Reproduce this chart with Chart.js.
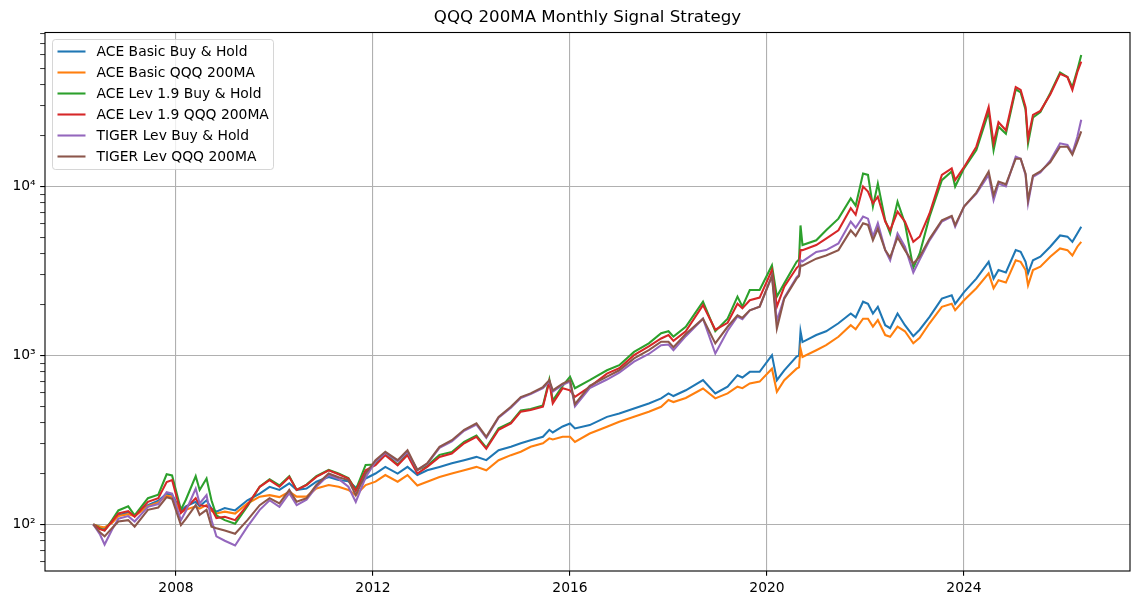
<!DOCTYPE html>
<html lang="en">
<head>
<meta charset="utf-8">
<script src="https://cdn.jsdelivr.net/npm/chart.js"></script>
<style>
    body { margin: 0; background: #ffffff; }
    #wrap { width: 1140px; height: 605px; }
</style>
</head>
<body>
<div id="wrap"><canvas id="chart" width="1140" height="605"></canvas></div>
<script>
// dates as decimal years (log scale)
const years = [
    2006.32, 2006.45, 2006.55, 2006.70, 2006.83, 2007.03, 2007.16, 2007.43, 2007.64, 2007.81,
    2007.92, 2008.10, 2008.20, 2008.40, 2008.48, 2008.62, 2008.72, 2008.82, 2008.99, 2009.20,
    2009.45, 2009.70, 2009.90, 2010.10, 2010.30, 2010.45, 2010.65, 2010.85, 2011.10, 2011.30,
    2011.50, 2011.65, 2011.85, 2012.05, 2012.25, 2012.50, 2012.70, 2012.90, 2013.10, 2013.35,
    2013.60, 2013.85, 2014.10, 2014.30, 2014.55, 2014.80, 2015.00, 2015.20, 2015.45, 2015.58,
    2015.65, 2015.85, 2016.00, 2016.10, 2016.40, 2016.75, 2017.00, 2017.30, 2017.60, 2017.85,
    2018.00, 2018.10, 2018.35, 2018.70, 2018.95, 2019.20, 2019.40, 2019.50, 2019.65, 2019.85,
    2020.10, 2020.20, 2020.35, 2020.60, 2020.65, 2020.68, 2020.72, 2021.00, 2021.20, 2021.45,
    2021.70, 2021.80, 2021.95, 2022.05, 2022.15, 2022.25, 2022.40, 2022.50, 2022.65, 2022.80,
    2022.97, 2023.10, 2023.30, 2023.55, 2023.75, 2023.82, 2024.00, 2024.25, 2024.50, 2024.60,
    2024.70, 2024.85, 2025.05, 2025.15, 2025.25, 2025.30, 2025.40, 2025.55, 2025.75, 2025.95,
    2026.10, 2026.20, 2026.30, 2026.38
];

const aceBasicHold = [
    100, 97, 95, 103, 113, 118, 113, 130, 138, 152,
    150, 120, 128, 136, 128, 139, 124, 119, 125, 121,
    139, 152, 167, 160, 175, 160, 163, 179, 191, 183,
    180, 165, 187, 200, 219, 200, 219, 196, 209, 219,
    230, 240, 251, 240, 275, 288, 302, 315, 330, 363,
    350, 380, 396, 370, 387, 433, 453, 485, 520, 557,
    596, 575, 622, 714, 596, 653, 764, 740, 800, 800,
    1004, 714, 816, 985, 1000, 1390, 1200, 1320, 1390, 1550,
    1770, 1680, 2080, 2020, 1770, 1940, 1510, 1450, 1770, 1510,
    1300, 1420, 1690, 2170, 2270, 2020, 2370, 2850, 3580, 2850,
    3200, 3100, 4200, 4100, 3580, 3060, 3660, 3840, 4400, 5130,
    5050, 4700, 5270, 5780
];

const aceBasicMA = [
    100, 97, 96, 102, 112, 115, 112, 128, 135, 148,
    146, 118, 122, 128, 124, 130, 120, 116, 119, 116,
    133, 146, 149, 145, 156, 146, 146, 163, 171, 167,
    160, 149, 171, 179, 196, 179, 196, 170, 179, 191,
    200, 209, 219, 209, 240, 257, 269, 288, 302, 323,
    318, 330, 330, 308, 345, 378, 405, 433, 464, 497,
    545, 530, 560, 637, 557, 596, 653, 640, 683, 700,
    835, 610, 714, 835, 850, 1100, 980, 1074, 1150, 1290,
    1510, 1430, 1650, 1650, 1480, 1620, 1320, 1290, 1480, 1390,
    1180, 1270, 1550, 1940, 2020, 1850, 2122, 2500, 3060, 2500,
    2790, 2700, 3660, 3580, 3200, 2600, 3200, 3350, 3840, 4300,
    4200, 3900, 4400, 4700
];

const aceLevHold = [
    100, 95, 92, 106, 121, 128, 113, 143, 150, 198,
    195, 122, 140, 193, 160, 187, 139, 113, 106, 101,
    128, 167, 185, 170, 193, 160, 172, 193, 210, 200,
    188, 160, 225, 226, 262, 226, 262, 210, 222, 258,
    268, 308, 336, 285, 370, 402, 472, 482, 505, 720,
    540, 660, 749, 640, 714, 817, 876, 1050, 1179, 1352,
    1390, 1292, 1478, 2080, 1390, 1650, 2230, 1944, 2440, 2440,
    3410, 2230, 2670, 3580, 3700, 5880, 4500, 4800, 5500, 6450,
    8500, 7700, 11920, 11700, 7600, 10400, 6300, 5270, 8120, 6060,
    3300, 4010, 6630, 10900, 12260, 9990, 12800, 16400, 27600, 16400,
    22600, 20500, 37600, 36000, 28500, 18000, 25600, 27600, 35600, 47300,
    44400, 38700, 48800, 59900
];

const aceLevMA = [
    100, 94, 92, 104, 116, 120, 111, 136, 143, 178,
    183, 117, 125, 143, 130, 128, 124, 109, 111, 106,
    130, 167, 183, 167, 191, 160, 171, 191, 209, 198,
    187, 158, 209, 224, 257, 224, 257, 200, 219, 251,
    263, 302, 330, 280, 363, 396, 465, 475, 497, 700,
    520, 640, 622, 569, 652, 780, 840, 1004, 1130, 1260,
    1320, 1220, 1390, 1985, 1420, 1560, 2025, 1900, 2122, 2200,
    3200, 1944, 2550, 3290, 3400, 4200, 4200, 4500, 4920, 5500,
    7440, 6800, 9990, 9330, 7950, 8700, 6200, 5500, 7090, 6200,
    4700, 5050, 6920, 11700, 12800, 10900, 13000, 17200, 29500, 18000,
    24000, 21500, 38700, 37300, 29500, 19200, 26500, 28000, 35000, 46400,
    44400, 37300, 47500, 54800
];

const tigerLevHold = [
    100, 88, 76, 93, 108, 112, 104, 127, 132, 155,
    152, 106, 120, 163, 133, 149, 106, 85, 80, 75,
    97, 122, 139, 127, 153, 130, 140, 167, 196, 186,
    167, 136, 190, 235, 265, 236, 268, 210, 228, 284,
    310, 358, 390, 325, 428, 490, 560, 590, 640, 700,
    610, 670, 700, 500, 640, 720, 790, 920, 1020, 1150,
    1160, 1074, 1300, 1650, 1026, 1400, 1700, 1640, 1850, 1944,
    2960, 1600, 2200, 2900, 3000, 3660, 3600, 4100, 4200, 4600,
    6200, 5700, 6630, 6450, 5050, 6060, 4200, 3660, 5270, 4400,
    3100, 3700, 4800, 6200, 6630, 5780, 7600, 9060, 11700, 8300,
    10400, 10000, 15000, 14600, 11700, 7950, 11400, 12100, 14200, 18000,
    17600, 15700, 19600, 24800
];

const tigerLevMA = [
    100, 90, 85, 95, 104, 106, 97, 122, 126, 145,
    142, 99, 108, 130, 114, 122, 97, 95, 92, 88,
    106, 130, 143, 133, 160, 136, 143, 171, 200, 190,
    183, 149, 200, 240, 269, 240, 275, 210, 230, 288,
    315, 363, 396, 330, 433, 497, 567, 596, 650, 714,
    622, 680, 714, 515, 660, 749, 817, 961, 1074, 1205,
    1205, 1120, 1340, 1650, 1179, 1478, 1730, 1670, 1850, 1944,
    2960, 1445, 2170, 2850, 2950, 3400, 3400, 3740, 3900, 4200,
    5500, 5100, 6060, 5920, 4800, 5630, 4200, 3800, 5000, 4200,
    3500, 3840, 4900, 6300, 6700, 5900, 7600, 9200, 12260, 8870,
    10700, 10300, 14600, 14600, 11900, 8300, 11600, 12260, 13900, 17200,
    17200, 15400, 18300, 21200
];

const seriesNames = [
    'ACE Basic Buy & Hold',
    'ACE Basic QQQ 200MA',
    'ACE Lev 1.9 Buy & Hold',
    'ACE Lev 1.9 QQQ 200MA',
    'TIGER Lev Buy & Hold',
    'TIGER Lev QQQ 200MA'
];
const seriesValues = [aceBasicHold, aceBasicMA, aceLevHold, aceLevMA, tigerLevHold, tigerLevMA];
const seriesColors = ['#1f77b4', '#ff7f0e', '#2ca02c', '#d62728', '#9467bd', '#8c564b'];

const xTicks = [2008, 2012, 2016, 2020, 2024];
const yTicks = [60, 70, 80, 90, 100, 200, 300, 400, 500, 600, 700, 800, 900,
    1000, 2000, 3000, 4000, 5000, 6000, 7000, 8000, 9000,
    10000, 20000, 30000, 40000, 50000, 60000, 70000, 80000];
const yLabels = { 100: '10²', 1000: '10³', 10000: '10⁴' };

const FONT = "'DejaVu Sans', sans-serif";
Chart.defaults.color = '#000000';
Chart.defaults.font.family = FONT;

function isMajor(v) {
    return Math.abs(Math.log10(v) - Math.round(Math.log10(v))) < 1e-9;
}

// spines + matplotlib style legend box
const framePlugin = {
    id: 'frame',
    afterDatasetsDraw(chart) {
        const ctx = chart.ctx;
        const a = chart.chartArea;
        ctx.save();
        ctx.strokeStyle = '#000000';
        ctx.lineWidth = 1.1;
        ctx.strokeRect(a.left, a.top, a.right - a.left, a.bottom - a.top);
        ctx.restore();
    },
    afterDraw(chart) {
        const ctx = chart.ctx;
        const a = chart.chartArea;
        const bx = a.left + 7.5, by = a.top + 7, bw = 221, bh = 130;
        ctx.save();
        ctx.beginPath();
        ctx.roundRect(bx, by, bw, bh, 3);
        ctx.fillStyle = 'rgba(255,255,255,0.8)';
        ctx.fill();
        ctx.strokeStyle = 'rgba(204,204,204,0.8)';
        ctx.lineWidth = 1;
        ctx.stroke();
        ctx.font = '13.89px ' + FONT;
        ctx.textBaseline = 'middle';
        ctx.fillStyle = '#000000';
        seriesNames.forEach((name, i) => {
            const yy = by + 12 + i * 21;
            ctx.beginPath();
            ctx.moveTo(bx + 5, yy);
            ctx.lineTo(bx + 33, yy);
            ctx.strokeStyle = seriesColors[i];
            ctx.lineWidth = 2.08;
            ctx.stroke();
            ctx.fillText(name, bx + 44, yy + 1);
        });
        ctx.restore();
    }
};

const datasets = seriesNames.map((name, i) => ({
    label: name,
    data: years.map((t, k) => ({ x: t, y: seriesValues[i][k] })),
    borderColor: seriesColors[i],
    backgroundColor: seriesColors[i],
    borderWidth: 2.08,
    pointRadius: 0,
    tension: 0,
    fill: false,
    order: seriesNames.length - i
}));

new Chart(document.getElementById('chart').getContext('2d'), {
    type: 'line',
    data: { datasets: datasets },
    plugins: [framePlugin],
    options: {
        responsive: false,
        animation: false,
        devicePixelRatio: 1,
        layout: { padding: { left: 0, right: 10, top: 0, bottom: 0 } },
        plugins: {
            legend: { display: false },
            tooltip: { enabled: false },
            title: {
                display: true,
                text: 'QQQ 200MA Monthly Signal Strategy',
                fullSize: false,
                color: '#000000',
                font: { size: 16.67, weight: 'normal', family: FONT, lineHeight: 1.2 },
                padding: { top: 8, bottom: 4.5 }
            }
        },
        scales: {
            x: {
                type: 'linear',
                min: 2005.34,
                max: 2027.37,
                afterBuildTicks: s => { s.ticks = xTicks.map(v => ({ value: v })); },
                afterFit: s => { s.height = 34; },
                border: { display: false },
                grid: { color: '#b0b0b0', lineWidth: 1.1, tickColor: '#000000', tickLength: 4.86, tickWidth: 1.1 },
                ticks: {
                    autoSkip: false,
                    maxRotation: 0,
                    padding: 4.5,
                    font: { size: 13.89 },
                    callback: v => String(v)
                }
            },
            y: {
                type: 'logarithmic',
                min: 53,
                max: 81500,
                afterBuildTicks: s => { s.ticks = yTicks.map(v => ({ value: v })); },
                afterFit: s => { s.width = 45; },
                border: { display: false },
                grid: {
                    color: c => (c.tick && isMajor(c.tick.value)) ? '#b0b0b0' : 'rgba(0,0,0,0)',
                    lineWidth: 1.1,
                    tickColor: '#000000',
                    tickLength: 4.86,
                    tickWidth: c => (c.tick && isMajor(c.tick.value)) ? 1.1 : 0.8
                },
                ticks: {
                    autoSkip: false,
                    padding: 4.5,
                    font: { size: 13.89 },
                    callback: v => yLabels[v] || ''
                }
            }
        }
    }
});
</script>
</body>
</html>
